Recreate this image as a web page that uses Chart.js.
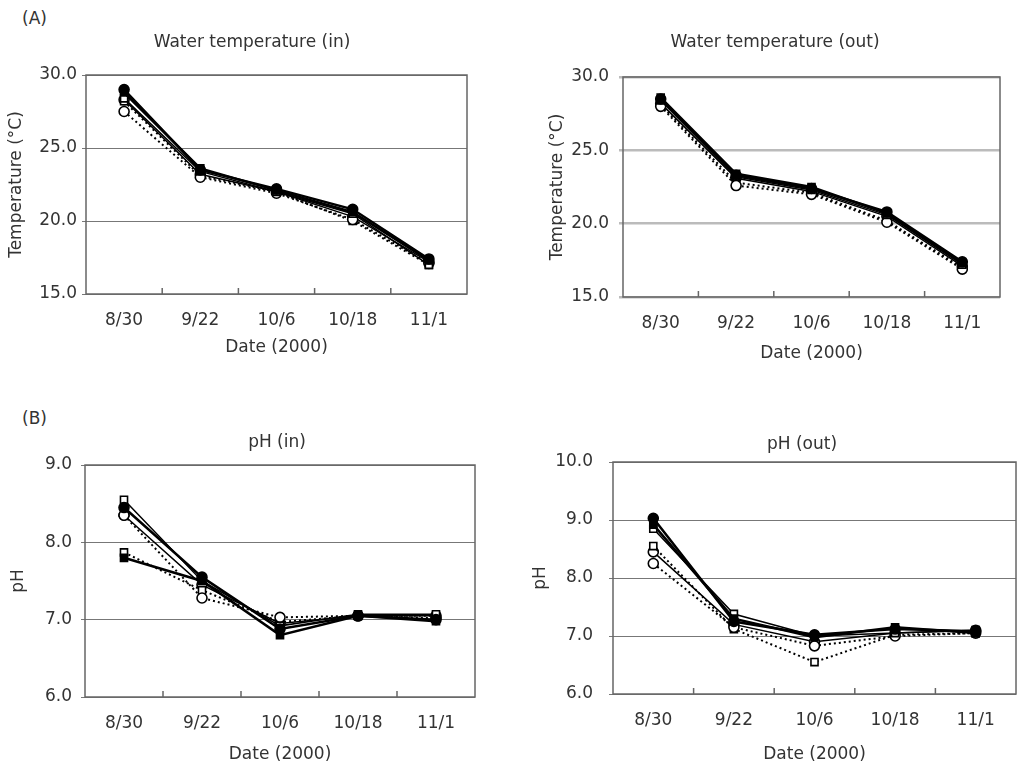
<!DOCTYPE html>
<html>
<head>
<meta charset="utf-8">
<script src="https://cdn.jsdelivr.net/npm/chart.js@4"></script>
<style>
  body { margin: 0; background: #fff; overflow: hidden; width: 1018px; height: 768px; position: relative; }
  canvas { position: absolute; }
  .tag { position: absolute; font: 17px "DejaVu Sans"; color: #333; line-height: 20px; }
</style>
</head>
<body>
<div class="tag" style="left:22px;top:8px">(A)</div>
<div class="tag" style="left:22px;top:408px">(B)</div>
<canvas id="tempIn" width="504" height="336" style="left:0;top:30px"></canvas>
<canvas id="tempOut" width="470" height="339" style="left:540px;top:30px"></canvas>
<canvas id="phIn" width="554" height="349" style="left:0;top:420px"></canvas>
<canvas id="phOut" width="544" height="346" style="left:530px;top:420px"></canvas>
<script>
const dates = ['8/30', '9/22', '10/6', '10/18', '11/1'];
const tempTicks = [15, 20, 25, 30];
const phInTicks = [6, 7, 8, 9];
const phOutTicks = [6, 7, 8, 9, 10];

// water temperature (in)
const tempIn1 = [29.0, 23.5, 22.2, 20.8, 17.4];
const tempIn2 = [28.8, 23.6, 22.1, 20.6, 17.3];
const tempIn3 = [28.4, 23.4, 22.0, 20.5, 17.0];
const tempIn4 = [27.5, 23.0, 21.9, 20.1, 17.1];
const tempIn5 = [28.2, 23.1, 22.0, 20.0, 17.0];
const tempIn6 = [28.3, 23.2, 22.0, 20.3, 17.2];

// water temperature (out)
const tempOut1 = [28.5, 23.3, 22.4, 20.8, 17.4];
const tempOut2 = [28.6, 23.4, 22.5, 20.7, 17.3];
const tempOut3 = [28.4, 23.2, 22.3, 20.6, 17.2];
const tempOut4 = [28.0, 22.6, 22.0, 20.1, 16.9];
const tempOut5 = [28.1, 22.8, 22.1, 20.2, 17.0];
const tempOut6 = [28.2, 23.1, 22.2, 20.5, 17.1];

// pH (in)
const phIn1 = [8.45, 7.55, 6.88, 7.05, 7.00];
const phIn2 = [7.80, 7.50, 6.80, 7.05, 6.98];
const phIn3 = [8.55, 7.50, 6.92, 7.07, 7.07];
const phIn4 = [8.35, 7.28, 7.03, 7.05, 7.02];
const phIn5 = [7.87, 7.38, 6.97, 7.05, 7.05];
const phIn6 = [8.35, 7.45, 6.95, 7.05, 7.05];

// pH (out)
const phOut1 = [9.03, 7.25, 7.02, 7.12, 7.08];
const phOut2 = [8.92, 7.30, 6.98, 7.15, 7.05];
const phOut3 = [8.85, 7.38, 7.00, 7.05, 7.10];
const phOut4 = [8.25, 7.15, 6.83, 7.00, 7.05];
const phOut5 = [8.55, 7.12, 6.55, 7.02, 7.05];
const phOut6 = [8.45, 7.20, 6.90, 7.05, 7.10];

// marker / line look of the six series
const looks = [
  { pointStyle: 'circle', filled: true, dash: [], width: 2.5 },
  { pointStyle: 'rect', filled: true, dash: [], width: 2.5 },
  { pointStyle: 'rect', filled: false, dash: [], width: 1.5 },
  { pointStyle: 'circle', filled: false, dash: [2, 3], width: 2 },
  { pointStyle: 'rect', filled: false, dash: [2, 3], width: 2 },
  { pointStyle: 'circle', filled: false, dash: [], width: 1.5 }
];

Chart.defaults.font.family = '"DejaVu Sans"';
Chart.defaults.font.size = 17;
Chart.defaults.color = '#333';

// box round the plot and small inward ticks between the dates
const frame = {
  id: 'frame',
  beforeDatasetsDraw(chart) {
    const { ctx, chartArea: a, scales: { x } } = chart;
    ctx.save();
    ctx.strokeStyle = '#666';
    ctx.lineWidth = 1.5;
    ctx.strokeRect(a.left, a.top, a.right - a.left, a.bottom - a.top);
    for (let i = 1; i < x.ticks.length; i++) {
      const px = (x.getPixelForTick(i - 1) + x.getPixelForTick(i)) / 2;
      ctx.beginPath();
      ctx.moveTo(px, a.bottom);
      ctx.lineTo(px, a.bottom - 6);
      ctx.stroke();
    }
    ctx.restore();
  }
};

const makePanel = (id, p) => {
  return new Chart(document.getElementById(id), {
    type: 'line',
    data: {
      labels: dates,
      datasets: p.series.map((values, i) => ({
        data: values,
        yAxisID: 'y',
        borderColor: '#000',
        borderWidth: looks[i].width,
        borderDash: looks[i].dash,
        pointStyle: looks[i].pointStyle,
        pointRadius: 5,
        pointBorderWidth: 1.6,
        pointBorderColor: '#000',
        pointBackgroundColor: looks[i].filled ? '#000' : '#fff',
        tension: 0
      }))
    },
    options: {
      responsive: false,
      animation: false,
      plugins: {
        legend: { display: false },
        tooltip: { enabled: false },
        title: {
          display: true,
          text: p.title,
          font: { size: 17, weight: 'normal' },
          color: '#333',
          padding: p.titlePad
        }
      },
      scales: {
        x: {
          offset: true,
          grid: { display: false },
          border: { display: false },
          ticks: { padding: 8, autoSkip: false, maxRotation: 0, color: '#333' },
          title: { display: true, text: 'Date (2000)', padding: { top: 0, bottom: p.xTitlePad }, color: '#333' },
          afterFit: s => { s.height = 72; }
        },
        y: {
          min: p.ticks[0],
          max: p.ticks[p.ticks.length - 1],
          afterBuildTicks: s => { s.ticks = p.ticks.map(v => ({ value: v })); },
          grid: { color: p.gridColor, lineWidth: p.gridWidth, tickLength: 4 },
          border: { display: false },
          ticks: { padding: p.yTickPad, color: '#333', callback: v => v.toFixed(1) },
          title: { display: true, text: p.yTitle, padding: { top: p.yTitlePad, bottom: 0 }, color: '#333' },
          afterFit: s => { s.width = p.yW; }
        },
        // empty right-hand strip, so the title stays centred on the whole canvas
        spacer: {
          position: 'right',
          grid: { display: false },
          border: { display: false },
          ticks: { display: false },
          afterFit: s => { s.width = p.padRight; }
        }
      }
    },
    plugins: [frame]
  });
};

makePanel('tempIn', {
  title: 'Water temperature (in)', yTitle: 'Temperature (\u00b0C)',
  series: [tempIn1, tempIn2, tempIn3, tempIn4, tempIn5, tempIn6],
  ticks: tempTicks, yW: 86, padRight: 37, yTickPad: 5, yTitlePad: 6, xTitlePad: 8,
  titlePad: { top: 2, bottom: 22.6 }, gridColor: '#777', gridWidth: 1
});

makePanel('tempOut', {
  title: 'Water temperature (out)', yTitle: 'Temperature (\u00b0C)',
  series: [tempOut1, tempOut2, tempOut3, tempOut4, tempOut5, tempOut6],
  ticks: tempTicks, yW: 83, padRight: 10, yTickPad: 10, yTitlePad: 7, xTitlePad: 5,
  titlePad: { top: 2, bottom: 24.6 }, gridColor: '#bbb', gridWidth: 2.5
});

makePanel('phIn', {
  title: 'pH (in)', yTitle: 'pH',
  series: [phIn1, phIn2, phIn3, phIn4, phIn5, phIn6],
  ticks: phInTicks, yW: 85, padRight: 79, yTickPad: 9, yTitlePad: 8, xTitlePad: 4,
  titlePad: { top: 12.8, bottom: 11.8 }, gridColor: '#777', gridWidth: 1
});

makePanel('phOut', {
  title: 'pH (out)', yTitle: 'pH',
  series: [phOut1, phOut2, phOut3, phOut4, phOut5, phOut6],
  ticks: phOutTicks, yW: 83, padRight: 58, yTickPad: 16, yTitlePad: 0, xTitlePad: 1,
  titlePad: { top: 14.8, bottom: 6.8 }, gridColor: '#777', gridWidth: 1
});
</script>
</body>
</html>
